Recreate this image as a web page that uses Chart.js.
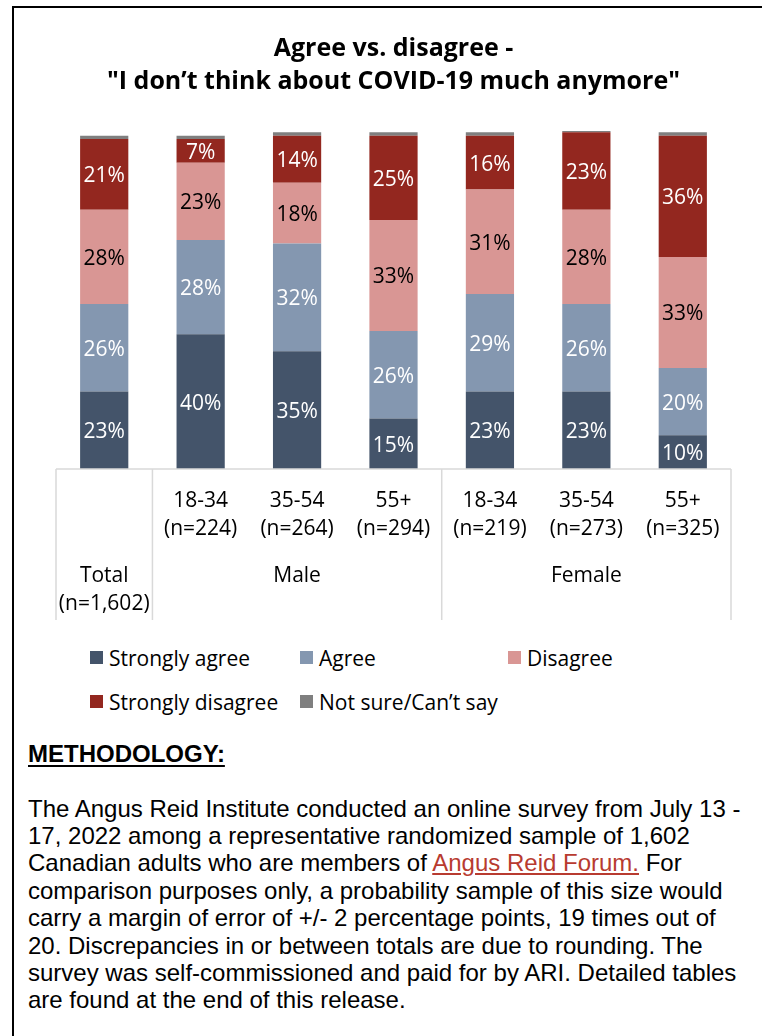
<!DOCTYPE html>
<html>
<head>
<meta charset="utf-8">
<script src="https://cdn.jsdelivr.net/npm/chart.js@4.4.1/dist/chart.umd.min.js"></script>
<style>
html,body{margin:0;padding:0;background:#fff;}
body{width:762px;height:1036px;position:relative;overflow:hidden;font-family:"Open Sans",sans-serif;}
#frame{position:absolute;left:12px;top:6px;width:760px;height:1040px;border-left:2px solid #000;border-top:2px solid #000;box-sizing:border-box;}
#wrap{position:absolute;left:0;top:0;width:762px;height:625px;}
.lbox{position:absolute;width:13px;height:13px;}
.ltxt{position:absolute;font-family:"Open Sans",sans-serif;font-size:21px;line-height:28px;color:#000;white-space:nowrap;}
#mhead{position:absolute;left:28px;top:740px;font-family:"Liberation Sans",Arial,sans-serif;font-weight:bold;font-size:24px;line-height:28px;text-decoration:underline;text-decoration-thickness:2px;text-underline-offset:3px;color:#000;white-space:nowrap;}
#mbody{position:absolute;left:28px;top:794.5px;font-family:"Liberation Sans",Arial,sans-serif;font-size:24px;line-height:27.4px;color:#000;white-space:nowrap;}
#mbody a{color:#b83b30;text-decoration:underline;}
</style>
</head>
<body>
<div id="frame"></div>
<div id="wrap"><canvas id="c"></canvas></div>
<div id="legend"></div>
<div id="mhead">METHODOLOGY:</div>
<div id="mbody">The Angus Reid Institute conducted an online survey from July 13 -<br>17, 2022 among a representative randomized sample of 1,602<br>Canadian adults who are members of <a>Angus Reid Forum.</a> For<br>comparison purposes only, a probability sample of this size would<br>carry a margin of error of +/- 2 percentage points, 19 times out of<br>20. Discrepancies in or between totals are due to rounding. The<br>survey was self-commissioned and paid for by ARI. Detailed tables<br>are found at the end of this release.</div>
<script>
// ---- data ----
const categories = [["",""],["18-34","(n=224)"],["35-54","(n=264)"],["55+","(n=294)"],["18-34","(n=219)"],["35-54","(n=273)"],["55+","(n=325)"]];
const groupLabels = [["Total","(n=1,602)"],["Male"],["Female"]];
const groupStart = [0,1,4];
const groupEnd = [0,3,6];
const seriesNames = ["Strongly agree","Agree","Disagree","Strongly disagree","Not sure/Can\u2019t say"];
const stronglyAgree = [23,40,35,15,23,23,10];
const agree = [26,28,32,26,29,26,20];
const disagree = [28,23,18,33,31,28,33];
const stronglyDisagree = [21,7,14,25,16,23,36];
const notSure = [1,1,1,1,1,0.4,1];
const titleLines = ["Agree vs. disagree -","\"I don\u2019t think about COVID-19 much anymore\""];

const colors = ["#44546a","#8497b0","#d99694","#93271f","#7f7f7f"];
const labelColors = ["#ffffff","#ffffff","#000000","#ffffff",null];
const values = [stronglyAgree,agree,disagree,stronglyDisagree,notSure];

const FONT = "'Open Sans', sans-serif";

const valueLabels = {
  id:'valueLabels',
  afterDatasetsDraw(chart){
    const ctx = chart.ctx;
    ctx.save();
    ctx.font = "21px " + FONT;
    ctx.textAlign = 'center';
    ctx.textBaseline = 'middle';
    chart.data.datasets.forEach((ds,d)=>{
      if(!labelColors[d]) return;
      const meta = chart.getDatasetMeta(d);
      meta.data.forEach((el,i)=>{
        const v = ds.data[i];
        ctx.fillStyle = labelColors[d];
        ctx.fillText(v + '%', el.x, (el.y + el.base)/2 + 2);
      });
    });
    ctx.restore();
  }
};

const groupAxis = {
  id:'groupAxis',
  afterDraw(chart){
    const ctx = chart.ctx;
    const xs = chart.scales.x;
    const area = chart.chartArea;
    const n = categories.length;
    const step = xs.getPixelForValue(1) - xs.getPixelForValue(0);
    const edge = i => xs.getPixelForValue(i) - step/2;
    const y0 = area.bottom, y1 = 620;
    ctx.save();
    ctx.strokeStyle = '#d9d9d9';
    ctx.lineWidth = 1.5;
    ctx.beginPath();
    ctx.moveTo(edge(0), y0); ctx.lineTo(edge(n), y0);
    const bounds = [0];
    groupEnd.forEach(e=>bounds.push(e+1));
    bounds.forEach(b=>{ ctx.moveTo(edge(b), y0); ctx.lineTo(edge(b), y1); });
    ctx.stroke();
    ctx.font = "21px " + FONT;
    ctx.fillStyle = '#000';
    ctx.textAlign = 'center';
    ctx.textBaseline = 'middle';
    groupLabels.forEach((lines,g)=>{
      const cx = (xs.getPixelForValue(groupStart[g]) + xs.getPixelForValue(groupEnd[g]))/2;
      lines.forEach((t,k)=> ctx.fillText(t, cx, 576 + k*28));
    });
    ctx.restore();
  }
};

const chart = new Chart(document.getElementById('c'), {
  type:'bar',
  data:{
    labels: categories,
    datasets: values.map((arr,d)=>({
      label: seriesNames[d],
      data: arr,
      backgroundColor: colors[d],
      borderWidth: 0,
      barPercentage: 0.5,
      categoryPercentage: 1.0
    }))
  },
  options:{
    responsive:true,
    maintainAspectRatio:false,
    animation:false,
    layout:{padding:{left:56,right:31,top:0,bottom:0}},
    plugins:{
      legend:{display:false},
      tooltip:{enabled:false},
      title:{
        display:true,
        text:titleLines,
        color:'#000',
        font:{family:FONT,size:25,weight:'bold',lineHeight:33/25},
        padding:{top:32,bottom:31}
      }
    },
    scales:{
      x:{
        stacked:true,
        grid:{display:false,drawTicks:false},
        border:{display:false},
        ticks:{color:'#000',font:{family:FONT,size:21,lineHeight:28/21},padding:18,maxRotation:0,autoSkip:false},
        afterFit(s){ s.height = 156; }
      },
      y:{
        stacked:true,
        display:false,
        min:0,
        max:101
      }
    }
  },
  plugins:[valueLabels, groupAxis]
});

// HTML legend built from the chart's datasets
(function(){
  const colX = [90,300,508];
  const rowCY = [657.5,701.5];
  const lg = document.getElementById('legend');
  chart.data.datasets.forEach((ds,i)=>{
    const cx = colX[i%3], cy = rowCY[Math.floor(i/3)];
    const b = document.createElement('div');
    b.className='lbox'; b.style.left=cx+'px'; b.style.top=(cy-6.5)+'px'; b.style.background=ds.backgroundColor;
    const t = document.createElement('div');
    t.className='ltxt'; t.style.left=(cx+19)+'px'; t.style.top=(cy-14)+'px'; t.textContent=ds.label;
    lg.appendChild(b); lg.appendChild(t);
  });
})();
</script>
</body>
</html>
